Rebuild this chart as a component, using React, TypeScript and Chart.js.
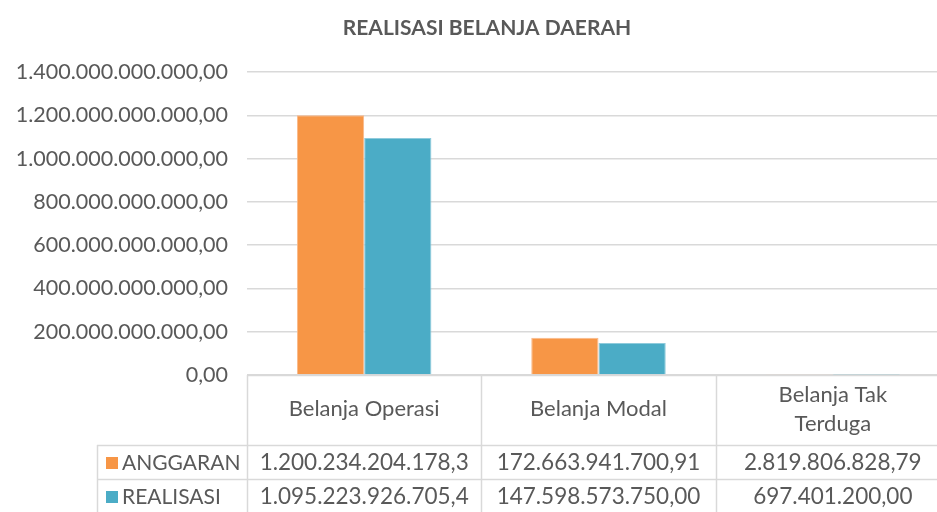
import React, { useEffect, useRef } from "react";
import { Chart, registerables } from "chart.js";

Chart.register(...registerables);

const chartTitle = "REALISASI BELANJA DAERAH";
const categories: string[][] = [["Belanja Operasi"], ["Belanja Modal"], ["Belanja Tak", "Terduga"]];
const seriesNames = ["ANGGARAN", "REALISASI"];
const anggaran = [1200234204178.3, 172663941700.91, 2819806828.79];
const realisasi = [1095223926705.4, 147598573750.0, 697401200.0];
const anggaranLabels = ["1.200.234.204.178,3", "172.663.941.700,91", "2.819.806.828,79"];
const realisasiLabels = ["1.095.223.926.705,4", "147.598.573.750,00", "697.401.200,00"];
const yMin = 0;
const yMax = 1400000000000;
const yStep = 200000000000;

const colors = ["#F79646", "#4BACC6"];
const textColor = "#595959";
const gridColor = "#D9D9D9";
const FONT = "Lato, 'Open Sans', sans-serif";

function formatTick(v: number): string {
  const s = Math.round(v).toString().replace(/\B(?=(\d{3})+(?!\d))/g, ".");
  return s + ",00";
}

export default function App() {
  const ref = useRef<HTMLCanvasElement | null>(null);

  useEffect(() => {
    document.body.style.margin = "0";
    const canvas = ref.current;
    if (!canvas) return;

    const tablePlugin = {
      id: "dataTable",
      afterDraw(chart: any) {
        const ctx = chart.ctx as CanvasRenderingContext2D;
        const area = chart.chartArea;
        const xs = chart.scales.x;
        const n = categories.length;
        const bounds: number[] = [area.left];
        for (let i = 0; i < n - 1; i++) {
          bounds.push((xs.getPixelForValue(i) + xs.getPixelForValue(i + 1)) / 2);
        }
        bounds.push(area.right);
        const headerTop = area.bottom;
        const headerH = 70;
        const rowH = 34;
        const legendLeft = 97;
        const r1 = headerTop + headerH;
        const r2 = r1 + rowH;
        const r3 = r2 + rowH;

        ctx.save();
        ctx.strokeStyle = gridColor;
        ctx.lineWidth = 1.5;
        const hl = (y: number, x0: number, x1: number) => {
          ctx.beginPath();
          ctx.moveTo(x0, Math.round(y) + 0.5);
          ctx.lineTo(x1, Math.round(y) + 0.5);
          ctx.stroke();
        };
        const vl = (x: number, y0: number, y1: number) => {
          ctx.beginPath();
          ctx.moveTo(Math.round(x) + 0.5, y0);
          ctx.lineTo(Math.round(x) + 0.5, y1);
          ctx.stroke();
        };
        hl(headerTop, area.left, area.right);
        hl(r1, legendLeft, area.right);
        hl(r2, legendLeft, area.right);
        hl(r3, legendLeft, area.right);
        for (let i = 0; i < bounds.length - 1; i++) vl(bounds[i], headerTop, r3);
        vl(legendLeft, r1, r3);

        ctx.fillStyle = textColor;
        ctx.textAlign = "center";
        ctx.textBaseline = "middle";
        for (let i = 0; i < n; i++) {
          const cx = (bounds[i] + bounds[i + 1]) / 2;
          const lines = categories[i];
          const lh = 29;
          const cy = headerTop + headerH / 2 - 1;
          ctx.font = `22px ${FONT}`;
          lines.forEach((ln, j) => {
            ctx.fillText(ln, cx, cy + (j - (lines.length - 1) / 2) * lh);
          });
          ctx.font = `22.5px ${FONT}`;
          ctx.fillText(anggaranLabels[i], cx, r1 + rowH / 2 + 1);
          ctx.fillText(realisasiLabels[i], cx, r2 + rowH / 2 + 1);
        }
        ctx.textAlign = "left";
        ctx.font = `21px ${FONT}`;
        seriesNames.forEach((name, k) => {
          const cy = r1 + k * rowH + rowH / 2 + 1;
          ctx.fillStyle = colors[k];
          ctx.fillRect(legendLeft + 9, cy - 6, 12, 12);
          ctx.fillStyle = textColor;
          ctx.fillText(name, legendLeft + 25, cy);
        });

        ctx.font = `bold 21px ${FONT}`;
        ctx.textAlign = "center";
        ctx.fillStyle = textColor;
        ctx.fillText(chartTitle, 487, 28);
        ctx.restore();
      },
    };

    const chart = new Chart(canvas, {
      type: "bar",
      data: {
        labels: categories.map((c) => c.join(" ")),
        datasets: [
          {
            label: seriesNames[0],
            data: anggaran,
            backgroundColor: colors[0],
            borderColor: "#FAB98A",
            borderWidth: 1,
            categoryPercentage: 0.574,
            barPercentage: 1,
          },
          {
            label: seriesNames[1],
            data: realisasi,
            backgroundColor: colors[1],
            borderColor: "#8FCBDC",
            borderWidth: 1,
            categoryPercentage: 0.574,
            barPercentage: 1,
          },
        ],
      },
      options: {
        responsive: false,
        animation: false,
        layout: { padding: { top: 72, bottom: 137, left: 0, right: 0 } },
        plugins: { legend: { display: false }, title: { display: false }, tooltip: { enabled: false } },
        scales: {
          x: { display: false },
          y: {
            min: yMin,
            max: yMax,
            ticks: {
              stepSize: yStep,
              padding: 19,
              color: textColor,
              font: { family: FONT, size: 21.5 },
              callback: (v: any) => formatTick(Number(v)),
            },
            grid: { color: gridColor, lineWidth: 1.5, drawTicks: false },
            border: { display: false },
            afterFit: (scale: any) => {
              scale.width = 247;
            },
          },
        },
      },
      plugins: [tablePlugin],
    });
    return () => chart.destroy();
  }, []);

  return (
    <div style={{ width: 937, height: 512, overflow: "hidden" }}>
      <canvas ref={ref} width={950} height={512} style={{ display: "block" }} />
    </div>
  );
}
